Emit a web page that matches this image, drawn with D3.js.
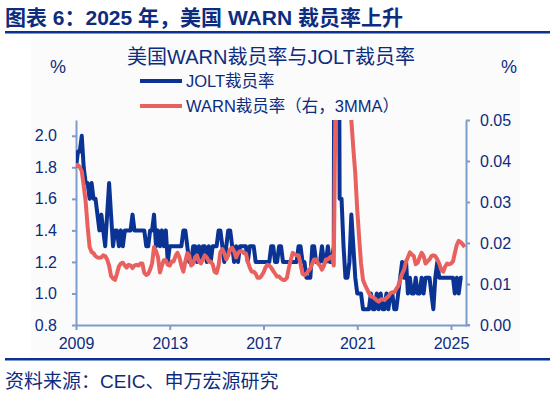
<!DOCTYPE html>
<html><head><meta charset="utf-8">
<script src="https://cdn.jsdelivr.net/npm/d3@7"></script>
<style>
body{margin:0;background:#fff;}
svg{display:block;font-family:"Liberation Sans",Arial,"Noto Sans CJK SC",sans-serif;}
</style></head>
<body><svg id="c" width="550" height="396"></svg>
<script>
// ---- data (monthly, starting Jan 2009) ----
const startYear = 2009, startMonth = 0;
const joltRate = [
1.8,1.9,1.9,2.0,1.8,1.7,1.7,1.6,1.7,1.6,1.6,1.5,
1.4,1.5,1.4,1.3,1.5,1.7,1.5,1.3,1.4,1.4,1.3,1.4,
1.3,1.4,1.4,1.4,1.4,1.5,1.4,1.4,1.4,1.4,1.4,1.4,
1.3,1.3,1.4,1.4,1.5,1.3,1.4,1.3,1.4,1.3,1.4,1.2,
1.3,1.3,1.3,1.3,1.3,1.3,1.3,1.4,1.4,1.3,1.2,1.2,
1.3,1.3,1.2,1.3,1.2,1.3,1.3,1.2,1.3,1.2,1.3,1.3,
1.3,1.4,1.4,1.3,1.2,1.3,1.4,1.4,1.3,1.2,1.3,1.2,
1.3,1.3,1.3,1.3,1.2,1.3,1.3,1.3,1.2,1.2,1.2,1.2,
1.2,1.2,1.2,1.2,1.3,1.3,1.2,1.2,1.3,1.3,1.2,1.2,
1.2,1.2,1.2,1.2,1.2,1.2,1.3,1.3,1.2,1.2,1.1,1.1,
1.1,1.3,1.3,1.2,1.2,1.2,1.3,1.2,1.2,1.3,1.2,1.2,
1.3,7.5,5.9,1.6,1.6,1.3,1.1,1.1,1.2,1.5,1.3,1.1,
1.0,1.0,1.0,0.9,0.9,0.9,0.9,1.0,0.9,0.9,1.0,0.9,
1.0,0.9,0.9,1.0,0.9,1.0,1.0,0.9,0.9,1.0,1.1,1.2,
1.1,1.2,1.0,1.1,1.0,1.0,1.1,1.0,1.0,1.1,1.0,1.1,
1.1,1.1,1.0,0.9,1.1,1.2,1.1,1.1,1.1,1.1,1.1,1.1,
1.1,1.1,1.0,1.1,1.0,1.1,1.1
];
const warnRate3mma = [
0.039,0.039,0.0385,0.0375,0.034,0.030,0.024,0.019,0.0178,0.0175,0.0168,0.0165,
0.0164,0.0165,0.017,0.0168,0.016,0.0145,0.012,0.0113,0.011,0.0125,0.0143,0.015,
0.0152,0.0145,0.014,0.0147,0.0145,0.0139,0.0145,0.0147,0.0145,0.015,0.015,0.0127,
0.0122,0.0125,0.0135,0.015,0.019,0.018,0.0166,0.0128,0.0145,0.0158,0.0158,0.0147,
0.0145,0.0155,0.0155,0.0168,0.0176,0.0165,0.0145,0.013,0.0155,0.0175,0.017,0.0145,
0.015,0.0165,0.017,0.0155,0.015,0.016,0.017,0.0165,0.0155,0.0155,0.0148,0.013,
0.0127,0.0145,0.0178,0.0185,0.0175,0.016,0.017,0.0185,0.0188,0.018,0.0165,0.0175,
0.018,0.018,0.0175,0.0175,0.0155,0.014,0.013,0.013,0.0125,0.0115,0.0115,0.012,
0.0128,0.014,0.0147,0.0145,0.014,0.0132,0.0125,0.0118,0.0118,0.0113,0.011,0.011,
0.0115,0.014,0.0158,0.0176,0.0172,0.017,0.017,0.015,0.0125,0.0122,0.0125,0.0132,
0.0138,0.015,0.016,0.016,0.015,0.0145,0.0135,0.0145,0.016,0.016,0.0165,0.0168,
0.0145,0.06,0.12,0.2,0.25,0.2,0.12,0.08,0.06,0.05,0.043,0.037,
0.028,0.021,0.015,0.011,0.0098,0.0088,0.0078,0.007,0.0068,0.0065,0.006,0.0057,
0.0062,0.0063,0.0061,0.0066,0.007,0.0077,0.008,0.008,0.0088,0.0095,0.011,0.0125,
0.0135,0.0155,0.0165,0.0177,0.0172,0.0168,0.0148,0.0152,0.0165,0.0176,0.0168,0.015,
0.0155,0.016,0.0168,0.017,0.0168,0.016,0.015,0.0135,0.013,0.0142,0.015,0.0148,
0.015,0.0155,0.0175,0.0195,0.0205,0.0202,0.0197,0.019
];
const xTickYears = [2009, 2013, 2017, 2021, 2025];
const leftTicks = [0.8, 1.0, 1.2, 1.4, 1.6, 1.8, 2.0];
const rightTicks = [0.00, 0.01, 0.02, 0.03, 0.04, 0.05];
const titleText = "图表 6：2025 年，美国 WARN 裁员率上升";
const chartTitle = "美国WARN裁员率与JOLT裁员率";
const legendLabels = ["JOLT裁员率", "WARN裁员率（右，3MMA）"];
const sourceText = "资料来源：CEIC、申万宏源研究";

// ---- drawing ----
const navy = "#0d2c7e", axisCol = "#7b9dcb", blue = "#0a3394", red = "#e8615f";
const svg = d3.select("#c");
const L = 76, R = 466.6, T = 120, B = 325;

svg.append("rect").attr("x",31).attr("y",36).attr("width",489).attr("height",320).attr("fill","#fbfbfb");

svg.append("text").attr("x",5).attr("y",25).attr("font-size",21).attr("font-weight","bold")
  .attr("fill",navy).text(titleText);
svg.append("rect").attr("x",5).attr("y",31).attr("width",545).attr("height",2.5).attr("fill","#0a3391");
svg.append("rect").attr("x",5).attr("y",358).attr("width",545).attr("height",2.5).attr("fill","#0a3391");
svg.append("text").attr("x",5).attr("y",388).attr("font-size",19).attr("fill",navy).text(sourceText);

svg.append("text").attr("x",271).attr("y",64).attr("text-anchor","middle").attr("font-size",20)
  .attr("fill",navy).text(chartTitle);
svg.append("text").attr("x",58).attr("y",73).attr("text-anchor","middle").attr("font-size",18).attr("fill",navy).text("%");
svg.append("text").attr("x",509).attr("y",73).attr("text-anchor","middle").attr("font-size",18).attr("fill",navy).text("%");

const dates = d => new Date(startYear, startMonth + d, 1);
const x = d3.scaleTime().domain([new Date(2009,0,1), new Date(2025,8,1)]).range([L, R]);
const yL = d3.scaleLinear().domain([0.8, 2.1]).range([B, T]);
const yR = d3.scaleLinear().domain([0, 0.05]).range([B, T]);

function styleAxis(g){
  g.selectAll("path,line").attr("stroke",axisCol).attr("stroke-width",2);
  g.selectAll("text").attr("fill",navy).attr("font-size",16).attr("font-family",null);
}
svg.append("g").attr("transform",`translate(0,${B})`)
  .call(d3.axisBottom(x).tickValues(xTickYears.map(y=>new Date(y,0,1))).tickFormat(d3.timeFormat("%Y")).tickSize(5).tickSizeOuter(0).tickPadding(8))
  .call(styleAxis);
svg.append("line").attr("x1",R).attr("x2",470).attr("y1",B).attr("y2",B).attr("stroke",axisCol).attr("stroke-width",2);
svg.append("g").attr("transform",`translate(${L},0)`)
  .call(d3.axisLeft(yL).tickValues(leftTicks).tickFormat(d3.format(".1f")).tickSize(4).tickSizeOuter(0).tickPadding(15))
  .call(styleAxis);
svg.append("g").attr("transform",`translate(466,0)`)
  .call(d3.axisRight(yR).tickValues(rightTicks).tickFormat(d3.format(".2f")).tickSize(4).tickSizeOuter(0).tickPadding(10))
  .call(styleAxis);

svg.append("clipPath").attr("id","clip").append("rect").attr("x",L).attr("y",T).attr("width",R-L+2).attr("height",B-T);
const plot = svg.append("g").attr("clip-path","url(#clip)");
plot.append("path").datum(joltRate).attr("fill","none").attr("stroke",blue).attr("stroke-width",4)
  .attr("stroke-linejoin","round")
  .attr("d", d3.line().x((d,i)=>x(dates(i))).y(d=>yL(d)));
plot.append("path").datum(warnRate3mma).attr("fill","none").attr("stroke",red).attr("stroke-width",4)
  .attr("stroke-linejoin","round")
  .attr("d", d3.line().x((d,i)=>x(dates(i))).y(d=>yR(d)));

// legend
const lg = [[blue, 81], [red, 106]];
lg.forEach((l,i)=>{
  svg.append("line").attr("x1",140).attr("x2",182).attr("y1",l[1]).attr("y2",l[1]).attr("stroke",l[0]).attr("stroke-width",4);
  svg.append("text").attr("x",186).attr("y",l[1]).attr("dy","0.35em").attr("font-size",16.5).attr("fill",navy).text(legendLabels[i]);
});
</script></body></html>
